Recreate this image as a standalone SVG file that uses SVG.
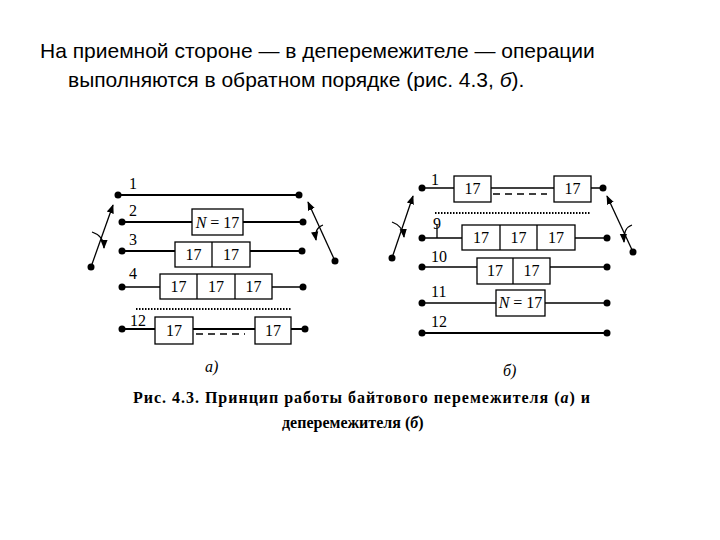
<svg xmlns="http://www.w3.org/2000/svg" width="720" height="540" viewBox="0 0 720 540">
<style>
.l{stroke:#000;stroke-width:2;fill:none}
.t{stroke:#000;stroke-width:1.3;fill:none}
.b{fill:#fff;stroke:#000;stroke-width:1.3}
.n{font-family:"Liberation Serif",serif;font-size:16px;fill:#000}
.c{font-family:"Liberation Sans",sans-serif;font-size:21px}
.cap{font-family:"Liberation Serif",serif;font-size:16px;font-weight:bold}
.dot{stroke:#000;stroke-width:2;stroke-dasharray:1.5 1.5}
.dash{stroke:#000;stroke-width:1.5;stroke-dasharray:7 5}
</style>
<defs>
<marker id="a" viewBox="0 0 10 10" refX="9" refY="5" markerWidth="7" markerHeight="7" orient="auto"><path d="M0,1 L10,5 L0,9 z"/></marker>
</defs>
<rect width="720" height="540" fill="#fff"/>
<text class="c" x="40" y="58">На приемной стороне — в деперемежителе — операции</text>
<text class="c" x="68" y="87">выполняются в обратном порядке (рис. 4.3, <tspan font-style="italic">б</tspan>).</text>
<g id="connectors">
<line class="l" x1="118" y1="195" x2="299" y2="195"/>
<line class="l" x1="122" y1="222" x2="303" y2="222"/>
<line class="l" x1="122" y1="251" x2="302" y2="251"/>
<line class="t" x1="122" y1="287" x2="303" y2="287"/>
<line class="dot" x1="136" y1="309" x2="292" y2="309"/>
<line class="l" x1="122" y1="329" x2="305" y2="329"/>
<line class="dash" x1="196" y1="334" x2="245" y2="334"/>
<line class="t" x1="91" y1="267" x2="113" y2="205" marker-end="url(#a)"/>
<path class="t" d="M92,232 Q104,236 104,248" marker-end="url(#a)"/>
<line class="t" x1="335" y1="261" x2="308" y2="202" marker-end="url(#a)"/>
<path class="t" d="M323,225 Q314,228 316,240" marker-end="url(#a)"/>
<line class="t" x1="422" y1="188" x2="603" y2="188"/>
<line class="dash" x1="493" y1="194" x2="547" y2="194"/>
<line class="dot" x1="435" y1="213" x2="590" y2="213"/>
<line class="t" x1="422" y1="238" x2="607" y2="238"/>
<line class="t" x1="437" y1="225" x2="437" y2="238"/>
<line class="t" x1="422" y1="267" x2="607" y2="267"/>
<line class="t" x1="422" y1="303" x2="607" y2="303"/>
<line class="l" x1="422" y1="333" x2="607" y2="333"/>
<line class="t" x1="392" y1="258" x2="413" y2="196" marker-end="url(#a)"/>
<path class="t" d="M392,222 Q403,226 404,237" marker-end="url(#a)"/>
<line class="t" x1="633" y1="252" x2="607" y2="196" marker-end="url(#a)"/>
<path class="t" d="M632,225 Q623,228 624,242" marker-end="url(#a)"/>
</g>
<g id="dots">
<circle cx="118" cy="195" r="3.5"/><circle cx="299" cy="195" r="3.5"/>
<circle cx="122" cy="222" r="3.5"/><circle cx="303" cy="222" r="3.5"/>
<circle cx="122" cy="251" r="3.5"/><circle cx="302" cy="251" r="3.5"/>
<circle cx="122" cy="287" r="3.5"/><circle cx="303" cy="287" r="3.5"/>
<circle cx="122" cy="329" r="3.5"/><circle cx="305" cy="329" r="3.5"/>
<circle cx="91" cy="267" r="3.5"/><circle cx="335" cy="261" r="3.5"/>
<circle cx="422" cy="188" r="3.5"/><circle cx="603" cy="188" r="3.5"/>
<circle cx="422" cy="238" r="3.5"/><circle cx="607" cy="238" r="3.5"/>
<circle cx="422" cy="267" r="3.5"/><circle cx="607" cy="267" r="3.5"/>
<circle cx="422" cy="303" r="3.5"/><circle cx="607" cy="303" r="3.5"/>
<circle cx="422" cy="333" r="3.5"/><circle cx="607" cy="333" r="3.5"/>
<circle cx="392" cy="258" r="3.5"/><circle cx="633" cy="252" r="3.5"/>
</g>
<g id="labels" class="n">
<text x="129" y="189">1</text><text x="129" y="216">2</text><text x="129" y="245">3</text><text x="129" y="279">4</text><text x="130" y="326">12</text>
<text x="431" y="185">1</text><text x="433" y="229">9</text><text x="431" y="262">10</text><text x="431" y="297">11</text><text x="431" y="327">12</text>
</g>
<g id="left-n"><rect class="b" x="192" y="209" width="51" height="26"/><text class="n" x="217.5" y="228" text-anchor="middle"><tspan font-style="italic">N</tspan> = 17</text></g>
<g id="left-3"><rect class="b" x="175" y="242" width="75" height="25"/><line class="t" x1="212" y1="242" x2="212" y2="267"/><text class="n" x="193.5" y="260" text-anchor="middle">17</text><text class="n" x="231" y="260" text-anchor="middle">17</text></g>
<g id="left-4"><rect class="b" x="160" y="274" width="112" height="25"/><line class="t" x1="197" y1="274" x2="197" y2="299"/><line class="t" x1="235" y1="274" x2="235" y2="299"/><text class="n" x="178.5" y="292" text-anchor="middle">17</text><text class="n" x="216" y="292" text-anchor="middle">17</text><text class="n" x="253.5" y="292" text-anchor="middle">17</text></g>
<g id="left-12"><rect class="b" x="155" y="317" width="38" height="27"/><text class="n" x="174" y="336" text-anchor="middle">17</text><rect class="b" x="255" y="317" width="36" height="27"/><text class="n" x="273" y="336" text-anchor="middle">17</text></g>
<g id="right-1"><rect class="b" x="454" y="176" width="37" height="26"/><text class="n" x="472.5" y="194" text-anchor="middle">17</text><rect class="b" x="554" y="176" width="37" height="26"/><text class="n" x="572.5" y="194" text-anchor="middle">17</text></g>
<g id="right-9"><rect class="b" x="462" y="225" width="113" height="25"/><line class="t" x1="500" y1="225" x2="500" y2="250"/><line class="t" x1="537" y1="225" x2="537" y2="250"/><text class="n" x="481" y="243" text-anchor="middle">17</text><text class="n" x="518.5" y="243" text-anchor="middle">17</text><text class="n" x="556" y="243" text-anchor="middle">17</text></g>
<g id="right-10"><rect class="b" x="477" y="258" width="73" height="26"/><line class="t" x1="513" y1="258" x2="513" y2="284"/><text class="n" x="495" y="276" text-anchor="middle">17</text><text class="n" x="531.5" y="276" text-anchor="middle">17</text></g>
<g id="right-n"><rect class="b" x="496" y="290" width="49" height="26"/><text class="n" x="520.5" y="308" text-anchor="middle"><tspan font-style="italic">N</tspan> = 17</text></g>
<text class="n" x="205" y="372" font-style="italic">а)</text>
<text class="n" x="503" y="376" font-style="italic">б)</text>
<text class="cap" x="133" y="403" textLength="457">Рис. 4.3. Принцип работы байтового перемежителя (<tspan font-style="italic">а</tspan>) и</text>
<text class="cap" x="282" y="428">деперемежителя (<tspan font-style="italic">б</tspan>)</text>
</svg>
